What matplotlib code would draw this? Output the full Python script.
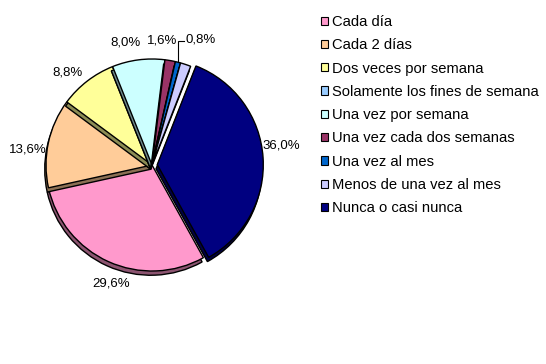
import matplotlib
matplotlib.use('Agg')
import matplotlib.pyplot as plt
from matplotlib.patches import Wedge
import matplotlib.colors as mcolors
import numpy as np

categories = ['Cada día', 'Cada 2 días', 'Dos veces por semana',
              'Solamente los fines de semana', 'Una vez por semana',
              'Una vez cada dos semanas', 'Una vez al mes',
              'Menos de una vez al mes', 'Nunca o casi nunca']
values = [29.6, 13.6, 8.8, 0.0, 8.0, 1.6, 0.8, 1.6, 36.0]
colors = ['#FF99CC', '#FFCC99', '#FFFF99', '#99CCFF', '#CCFFFF',
          '#993366', '#0066CC', '#CCCCFF', '#000080']
show_label = [True, True, True, False, True, True, True, False, True]

plt.rcParams['font.family'] = ['Liberation Sans', 'DejaVu Sans']
FS = 9.5
LFS = 10.6

W, H = 546, 364
CX, CY, R = 152, 165, 106  # pie centre / radius in pixels

fig = plt.figure(figsize=(W / 100, H / 100), dpi=100)
fig.patch.set_facecolor('white')
ax = fig.add_axes([0, 0, 1, 1])

explode = [0, 0, 0, 0, 0, 0, 0, 0, 0.05]
wedges, _ = ax.pie(values, colors=colors, startangle=-61, counterclock=False,
                   explode=explode, radius=1.0,
                   wedgeprops=dict(edgecolor='black', linewidth=1.0))

# 3D-like shadow beneath each slice (drawn in slice order)
dx, dy = -0.012, -0.04
for i, w in enumerate(wedges):
    dark = np.array(mcolors.to_rgb(colors[i])) * 0.55
    sh = Wedge((w.center[0] + dx, w.center[1] + dy), w.r, w.theta1, w.theta2,
               facecolor=dark, edgecolor='black', linewidth=1.0, zorder=2 * i + 1)
    ax.add_patch(sh)
    w.set_zorder(2 * i + 2)

# percentage labels
for i, w in enumerate(wedges):
    if not show_label[i]:
        continue
    txt = f"{values[i]:.1f}%".replace('.', ',')
    mid = np.deg2rad((w.theta1 + w.theta2) / 2)
    cx, cy = w.center
    if values[i] < 1.0:
        # small slice: label with leader line
        x0, y0 = cx + np.cos(mid) * 1.0, cy + np.sin(mid) * 1.0
        ty = cy + 1.17
        ax.plot([x0, x0, x0 + 0.06], [y0, ty, ty], color='black', lw=0.8,
                zorder=50, solid_joinstyle='miter')
        ax.text(x0 + 0.07, ty + 0.01, txt, ha='left', va='center', fontsize=FS,
                zorder=50)
    else:
        a = mid + np.deg2rad(5)
        ax.text(cx + np.cos(a) * 1.18, cy + np.sin(a) * 1.18, txt,
                ha='center', va='center', fontsize=FS, zorder=50)

ax.set_aspect('auto')
ax.set_xlim(-CX / R, (W - CX) / R)
ax.set_ylim(-(H - CY) / R, CY / R)
ax.axis('off')

leg = ax.legend(wedges, categories, loc='upper left',
                bbox_to_anchor=(321 / W, 1 - 15 / H), bbox_transform=fig.transFigure,
                frameon=False, fontsize=LFS, handlelength=0.48, handleheight=0.48,
                handletextpad=0.3, labelspacing=0.63, borderpad=0, borderaxespad=0)
for h in leg.legend_handles:
    h.set_edgecolor('black')
    h.set_linewidth(0.8)

fig.savefig('out.png', dpi=100, facecolor='white')
